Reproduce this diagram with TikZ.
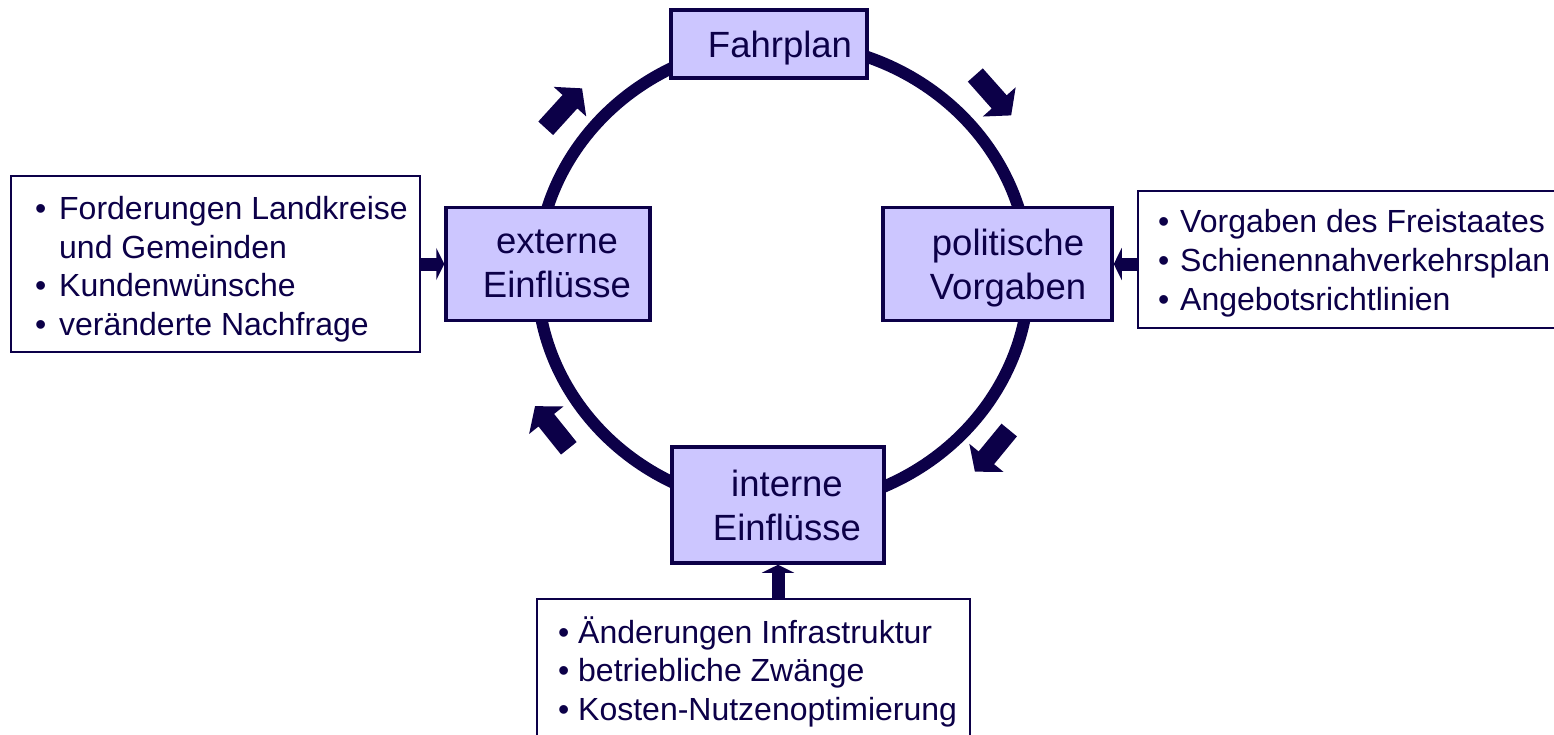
\documentclass[tikz,border=0pt]{standalone}
\usepackage{fontspec}
\setmainfont{Liberation Sans}
\usetikzlibrary{arrows.meta}
\definecolor{navy}{RGB}{12,0,72}
\definecolor{lilac}{RGB}{204,198,255}
% bullet item: bullet in a box of the given width, then the text
\newcommand{\itm}[2]{\makebox[#1][l]{•}#2}

\begin{document}
\begin{tikzpicture}[x=1pt,y=-1pt,
  stage/.style={draw=navy, line width=3.5pt, fill=lilac, text=navy, align=center,
    font=\fontsize{36.5}{44}\selectfont, inner sep=0pt, text depth=0pt},
  twoline/.style={text depth=-4pt},
  notes/.style={draw=navy, line width=2pt, fill=white, inner sep=0pt},
  notetext/.style={text=navy, align=left, anchor=west, inner sep=0pt,
    font=\fontsize{32}{38.5}\selectfont},
  ring/.style={draw=navy, line width=12pt},
  feed/.style={draw=navy, line width=13pt, -{Triangle[width=32pt,length=8pt]}},
  cyclearrow/.pic={\fill[navy] (0,-10) -- (36,-10) -- (36,-22) -- (54,0)
    -- (36,22) -- (36,10) -- (0,10) -- cycle;}
]
\clip (0,0) rectangle (1554,734);

% the planning cycle
\draw[ring] (783,275) ellipse [x radius=246, y radius=232];

% direction of the cycle
\pic[rotate=47.7]   at (545.7,128.3) {cyclearrow};
\pic[rotate=-48.4]  at (975.3,75)    {cyclearrow};
\pic[rotate=-129.4] at (1009.2,430)  {cyclearrow};
\pic[rotate=128.7]  at (568.8,448.3) {cyclearrow};

% stages on the ring
\node[stage, minimum width=196pt, minimum height=68pt] (fahr) at (769,44)
  {\hspace*{22pt}Fahrplan};
\node[stage, twoline, minimum width=204pt, minimum height=113pt] (ext) at (548,264)
  {\hspace*{18pt}externe\\\hspace*{18pt}Einflüsse};
\node[stage, twoline, minimum width=229pt, minimum height=113pt] (pol) at (997.5,264)
  {\hspace*{21pt}politische\\\hspace*{21pt}Vorgaben};
\node[stage, twoline, minimum width=212pt, minimum height=116pt] (int) at (778,505)
  {\hspace*{18pt}interne\\\hspace*{18pt}Einflüsse};

% influencing factors
\node[notes, minimum width=409pt, minimum height=176pt] (lbox) at (215.5,264) {};
\node[notetext] (ltext) at ([xshift=25pt,yshift=-5pt]lbox.west)
  {\itm{24pt}{Forderungen Landkreise}\\\hspace*{24pt}und Gemeinden\\
   \itm{24pt}{Kundenwünsche}\\\itm{24pt}{veränderte Nachfrage}};
\node[notes, minimum width=422pt, minimum height=137pt] (rbox) at (1349,259.5) {};
\node[notetext, font=\fontsize{32}{39}\selectfont] (rtext) at ([xshift=21pt,yshift=-4pt]rbox.west)
  {\itm{22pt}{Vorgaben des Freistaates}\\\itm{22pt}{Schienennahverkehrsplan}\\
   \itm{22pt}{Angebotsrichtlinien}};
\node[notes, minimum width=433pt, minimum height=141pt] (bbox) at (753.5,669.5) {};
\node[notetext] (btext) at ([xshift=22pt,yshift=-2pt]bbox.west)
  {\itm{20pt}{Änderungen Infrastruktur}\\\itm{20pt}{betriebliche Zwänge}\\
   \itm{20pt}{Kosten-Nutzenoptimierung}};

% factors feeding the stages
\draw[feed] (lbox.east) -- (ext.west);
\draw[feed] (rbox.west |- pol.east) -- (pol.east);
\draw[feed] (int.south |- bbox.north) -- (int.south);
\end{tikzpicture}
\end{document}
